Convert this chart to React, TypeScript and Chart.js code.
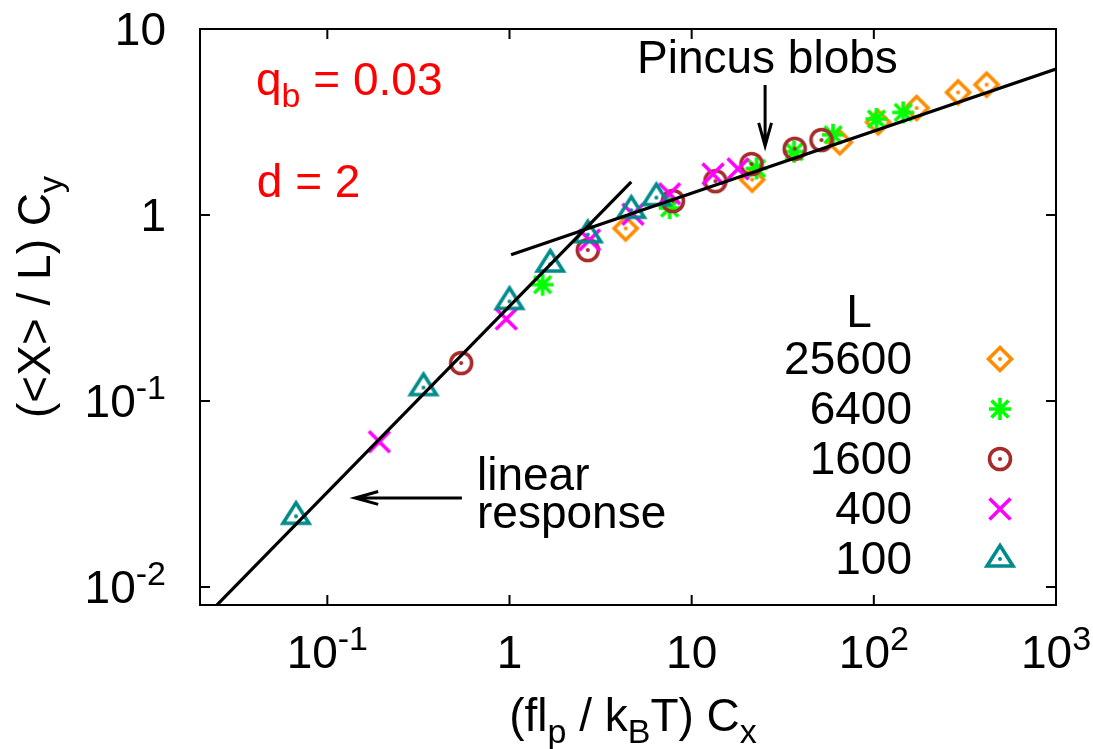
import React, { useEffect, useRef } from "react";
import { Chart, registerables } from "chart.js";

Chart.register(...registerables);

// ---------- data ----------
const seriesLabels = ["25600", "6400", "1600", "400", "100"];
const seriesColors = ["#ff8c00", "#00ff00", "#a52a2a", "#ff00ff", "#008b8b"];
const seriesMarkers = ["diamond", "star", "circle", "cross", "triangle"];

const x25600 = [4.34, 21.5, 65.0, 105.6, 171.7, 290, 416];
const y25600 = [0.847, 1.55, 2.46, 3.15, 3.76, 4.56, 5.02];
const x6400 = [1.52, 7.57, 22.7, 36.5, 59.7, 103.4, 145];
const y6400 = [0.422, 1.09, 1.78, 2.19, 2.7, 3.28, 3.56];
const x1600 = [0.543, 2.69, 7.89, 13.5, 21.3, 36.8, 51.6];
const y1600 = [0.16, 0.648, 1.19, 1.52, 1.88, 2.27, 2.53];
const x400 = [0.193, 0.96, 2.75, 4.76, 7.57, 13.1, 17.97];
const y400 = [0.0604, 0.276, 0.734, 1.01, 1.3, 1.66, 1.77];
const x100 = [0.0673, 0.337, 1.0, 1.674, 2.69, 4.66, 6.4];
const y100 = [0.024, 0.118, 0.343, 0.545, 0.784, 1.06, 1.24];

const seriesX = [x25600, x6400, x1600, x400, x100];
const seriesY = [y25600, y6400, y1600, y400, y100];

// fit lines (endpoints in data units)
const linearFitX = [0.02, 4.66];
const linearFitY = [0.00646, 1.505];
const pincusFitX = [1.02, 1000];
const pincusFitY = [0.612, 6.09];

// axes
const xMin = 0.02;
const xMax = 1000;
const yMin = 0.008;
const yMax = 10;
const xTickValues = [0.1, 1, 10, 100, 1000];
const xTickLabels = ["10^{-1}", "1", "10", "10^2", "10^3"];
const yTickValues = [0.01, 0.1, 1, 10];
const yTickLabels = ["10^{-2}", "10^{-1}", "1", "10"];

const xTitle = "(fl_p / k_BT) C_x";
const yTitle = "(<X> / L) C_y";
const legendTitle = "L";

// annotations (data coordinates)
const labelQb = { text: "q_b = 0.03", x: 0.0406, y: 4.42 };
const labelD = { text: "d = 2", x: 0.041, y: 1.25 };
const labelPincus = { text: "Pincus blobs", x: 5.01, y: 5.8 };
const labelLinear1 = { text: "linear", x: 0.663, y: 0.0332 };
const labelLinear2 = { text: "response", x: 0.663, y: 0.0208 };
const arrowLinear = { x1: 0.548, y1: 0.0301, x2: 0.142, y2: 0.0301 };
const arrowPincus = { x1: 25.3, y1: 5.0, x2: 25.3, y2: 2.35 };

// ---------- rendering helpers ----------
const FONT = '"Liberation Sans", Arial, Helvetica, sans-serif';
const MAIN = 46;
const SMALL = 34;
const SUP_RAISE = 18;
const SUB_DROP = 12;

type Seg = { t: string; s?: "sup" | "sub" };

function parseEnhanced(s: string): Seg[] {
  const segs: Seg[] = [];
  let buf = "";
  let i = 0;
  while (i < s.length) {
    const c = s[i];
    if (c === "^" || c === "_") {
      if (buf) {
        segs.push({ t: buf });
        buf = "";
      }
      let t = "";
      if (s[i + 1] === "{") {
        const j = s.indexOf("}", i + 2);
        t = s.slice(i + 2, j);
        i = j + 1;
      } else {
        t = s[i + 1];
        i += 2;
      }
      segs.push({ t, s: c === "^" ? "sup" : "sub" });
    } else {
      buf += c;
      i++;
    }
  }
  if (buf) segs.push({ t: buf });
  return segs;
}

function segFont(seg: Seg) {
  return `${seg.s ? SMALL : MAIN}px ${FONT}`;
}

function richWidth(ctx: CanvasRenderingContext2D, segs: Seg[]) {
  let w = 0;
  for (const sg of segs) {
    ctx.font = segFont(sg);
    w += ctx.measureText(sg.t).width;
  }
  return w;
}

function drawRich(
  ctx: CanvasRenderingContext2D,
  text: string,
  x: number,
  y: number,
  align: "left" | "center" | "right",
  color: string
) {
  const segs = parseEnhanced(text);
  const w = richWidth(ctx, segs);
  let cx = align === "left" ? x : align === "center" ? x - w / 2 : x - w;
  ctx.save();
  ctx.fillStyle = color;
  ctx.textAlign = "left";
  ctx.textBaseline = "alphabetic";
  for (const sg of segs) {
    ctx.font = segFont(sg);
    const dy = sg.s === "sup" ? -SUP_RAISE : sg.s === "sub" ? SUB_DROP : 0;
    ctx.fillText(sg.t, cx, y + dy);
    cx += ctx.measureText(sg.t).width;
  }
  ctx.restore();
}

function makeMarker(kind: string, color: string): HTMLCanvasElement {
  const S = 40;
  const c = document.createElement("canvas");
  c.width = S;
  c.height = S;
  const g = c.getContext("2d")!;
  g.translate(S / 2, S / 2);
  g.strokeStyle = color;
  g.fillStyle = color;
  g.lineWidth = 3.6;
  g.lineJoin = "miter";
  const dot = () => {
    g.beginPath();
    g.arc(0, 0, 2, 0, Math.PI * 2);
    g.fill();
  };
  g.beginPath();
  if (kind === "diamond") {
    g.moveTo(0, -11.5);
    g.lineTo(11.5, 0);
    g.lineTo(0, 11.5);
    g.lineTo(-11.5, 0);
    g.closePath();
    g.stroke();
    dot();
  } else if (kind === "star") {
    g.moveTo(-11, 0);
    g.lineTo(11, 0);
    g.moveTo(0, -11);
    g.lineTo(0, 11);
    g.moveTo(-8.5, -8.5);
    g.lineTo(8.5, 8.5);
    g.moveTo(-8.5, 8.5);
    g.lineTo(8.5, -8.5);
    g.stroke();
  } else if (kind === "circle") {
    g.arc(0, 0, 10.5, 0, Math.PI * 2);
    g.stroke();
    dot();
  } else if (kind === "cross") {
    g.moveTo(-10.5, -10.5);
    g.lineTo(10.5, 10.5);
    g.moveTo(-10.5, 10.5);
    g.lineTo(10.5, -10.5);
    g.stroke();
  } else if (kind === "triangle") {
    g.moveTo(0, -13.5);
    g.lineTo(13, 7);
    g.lineTo(-13, 7);
    g.closePath();
    g.stroke();
    dot();
  }
  return c;
}

function drawArrow(ctx: CanvasRenderingContext2D, x1: number, y1: number, x2: number, y2: number) {
  const ang = Math.atan2(y2 - y1, x2 - x1);
  const len = 24;
  const spread = 0.27;
  ctx.save();
  ctx.strokeStyle = "#000";
  ctx.lineWidth = 3;
  ctx.beginPath();
  ctx.moveTo(x1, y1);
  ctx.lineTo(x2, y2);
  ctx.moveTo(x2 - len * Math.cos(ang - spread), y2 - len * Math.sin(ang - spread));
  ctx.lineTo(x2, y2);
  ctx.lineTo(x2 - len * Math.cos(ang + spread), y2 - len * Math.sin(ang + spread));
  ctx.stroke();
  ctx.restore();
}

const W = 1093;
const H = 749;

export default function App() {
  const ref = useRef<HTMLCanvasElement | null>(null);

  useEffect(() => {
    const canvas = ref.current;
    if (!canvas) return;
    const markers = seriesMarkers.map((m, i) => makeMarker(m, seriesColors[i]));

    const pointSets = seriesLabels.map((lab, i) => ({
      label: lab,
      data: seriesX[i].map((x, k) => ({ x, y: seriesY[i][k] })),
      pointStyle: markers[i] as any,
      pointRadius: 12,
      pointHoverRadius: 12,
      showLine: false,
      order: 5 - i + 1,
    }));

    const lineSets = [
      { label: "linear fit", xs: linearFitX, ys: linearFitY },
      { label: "pincus fit", xs: pincusFitX, ys: pincusFitY },
    ].map((l) => ({
      label: l.label,
      data: l.xs.map((x, k) => ({ x, y: l.ys[k] })),
      showLine: true,
      borderColor: "#000",
      borderWidth: 3.2,
      pointRadius: 0,
      fill: false,
      order: 0,
    }));

    const decor = {
      id: "decor",
      afterDraw(chart: any) {
        const ctx: CanvasRenderingContext2D = chart.ctx;
        const a = chart.chartArea;
        const xs = chart.scales.x;
        const ys = chart.scales.y;
        ctx.save();
        // frame
        ctx.strokeStyle = "#000";
        ctx.lineWidth = 2;
        ctx.strokeRect(a.left, a.top, a.right - a.left, a.bottom - a.top);
        // ticks
        ctx.beginPath();
        xTickValues.forEach((v) => {
          const px = xs.getPixelForValue(v);
          ctx.moveTo(px, a.bottom);
          ctx.lineTo(px, a.bottom - 10);
          ctx.moveTo(px, a.top);
          ctx.lineTo(px, a.top + 10);
        });
        yTickValues.forEach((v) => {
          const py = ys.getPixelForValue(v);
          ctx.moveTo(a.left, py);
          ctx.lineTo(a.left + 10, py);
          ctx.moveTo(a.right, py);
          ctx.lineTo(a.right - 10, py);
        });
        ctx.stroke();
        // tick labels
        xTickValues.forEach((v, i) => {
          drawRich(ctx, xTickLabels[i], xs.getPixelForValue(v), a.bottom + 63, "center", "#000");
        });
        yTickValues.forEach((v, i) => {
          drawRich(ctx, yTickLabels[i], a.left - 34, ys.getPixelForValue(v) + 16, "right", "#000");
        });
        // axis titles
        drawRich(ctx, xTitle, (a.left + a.right) / 2 + 5, a.bottom + 126, "center", "#000");
        ctx.save();
        ctx.translate(a.left - 150, 297);
        ctx.rotate(-Math.PI / 2);
        drawRich(ctx, yTitle, 0, 0, "center", "#000");
        ctx.restore();
        // annotations
        const P = (o: { x: number; y: number }) => [xs.getPixelForValue(o.x), ys.getPixelForValue(o.y)];
        [labelQb, labelD].forEach((l) => {
          const [px, py] = P(l);
          drawRich(ctx, l.text, px, py, "left", "#ff0000");
        });
        [labelPincus, labelLinear1, labelLinear2].forEach((l) => {
          const [px, py] = P(l);
          drawRich(ctx, l.text, px, py, "left", "#000");
        });
        [arrowLinear, arrowPincus].forEach((ar) => {
          drawArrow(
            ctx,
            xs.getPixelForValue(ar.x1),
            ys.getPixelForValue(ar.y1),
            xs.getPixelForValue(ar.x2),
            ys.getPixelForValue(ar.y2)
          );
        });
        // legend
        const lx = a.right - 144;
        const ly = a.top + 345;
        drawRich(ctx, legendTitle, lx - 53, ly - 47, "center", "#000");
        seriesLabels.forEach((lab, i) => {
          const rowY = ly + 50 * i;
          drawRich(ctx, lab, lx, rowY, "right", "#000");
          const m = markers[i];
          ctx.drawImage(m, Math.round(a.right - 56 - m.width / 2), Math.round(rowY - 15 - m.height / 2));
        });
        ctx.restore();
      },
    };

    const chart = new Chart(canvas, {
      type: "scatter",
      data: { datasets: [...lineSets, ...pointSets] as any },
      options: {
        animation: false,
        responsive: false,
        devicePixelRatio: 1,
        layout: { padding: { left: 200, top: 29, right: 37, bottom: 144 } },
        scales: {
          x: { type: "logarithmic", min: xMin, max: xMax, display: false },
          y: { type: "logarithmic", min: yMin, max: yMax, display: false },
        },
        plugins: { legend: { display: false }, tooltip: { enabled: false } },
        events: [],
      },
      plugins: [decor],
    });
    return () => chart.destroy();
  }, []);

  return (
    <div style={{ position: "fixed", left: 0, top: 0, width: W, height: H, background: "#fff" }}>
      <canvas ref={ref} width={W} height={H} style={{ width: W, height: H, display: "block" }} />
    </div>
  );
}
